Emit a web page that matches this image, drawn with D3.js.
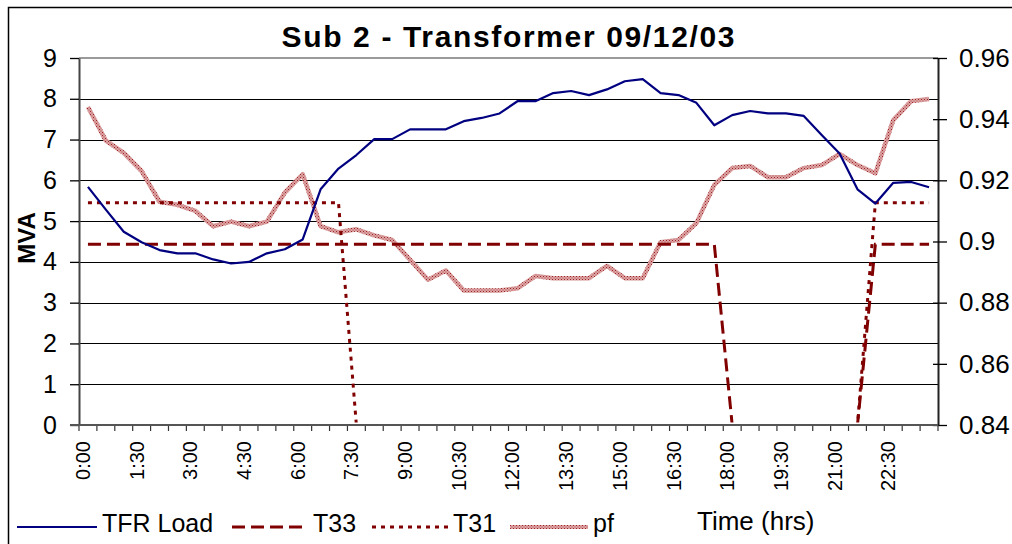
<!DOCTYPE html>
<html>
<head>
<meta charset="utf-8">
<script src="https://cdn.jsdelivr.net/npm/d3@7"></script>
<style>
    body { margin: 0; background: #fff; }
    svg { display: block; font-family: "Liberation Sans", Arial, sans-serif; }
</style>
</head>
<body>
<div id="chart"></div>
<script>
// half-hour readings, 09/12/03
const times = ['0:00', '0:30', '1:00', '1:30', '2:00', '2:30', '3:00', '3:30', '4:00', '4:30', '5:00', '5:30',
    '6:00', '6:30', '7:00', '7:30', '8:00', '8:30', '9:00', '9:30', '10:00', '10:30', '11:00', '11:30',
    '12:00', '12:30', '13:00', '13:30', '14:00', '14:30', '15:00', '15:30', '16:00', '16:30', '17:00', '17:30',
    '18:00', '18:30', '19:00', '19:30', '20:00', '20:30', '21:00', '21:30', '22:00', '22:30', '23:00', '23:30'];

const tfrLoad = [5.84, 5.28, 4.74, 4.48, 4.29, 4.21, 4.21, 4.06, 3.96, 4.00, 4.21, 4.31,
    4.55, 5.78, 6.29, 6.62, 7.01, 7.01, 7.25, 7.25, 7.25, 7.45, 7.53, 7.64,
    7.94, 7.94, 8.14, 8.19, 8.09, 8.23, 8.43, 8.48, 8.14, 8.09, 7.90, 7.35,
    7.60, 7.70, 7.64, 7.64, 7.58, 7.11, 6.66, 5.78, 5.43, 5.94, 5.96, 5.83];

const t33 = [4.43, 4.43, 4.43, 4.43, 4.43, 4.43, 4.43, 4.43, 4.43, 4.43, 4.43, 4.43,
    4.43, 4.43, 4.43, 4.43, 4.43, 4.43, 4.43, 4.43, 4.43, 4.43, 4.43, 4.43,
    4.43, 4.43, 4.43, 4.43, 4.43, 4.43, 4.43, 4.43, 4.43, 4.43, 4.43, 4.43,
    0, 0, 0, 0, 0, 0, 0, 0, 4.43, 4.43, 4.43, 4.43];

const t31 = [5.45, 5.45, 5.45, 5.45, 5.45, 5.45, 5.45, 5.45, 5.45, 5.45, 5.45, 5.45,
    5.45, 5.45, 5.45, 0, 0, 0, 0, 0, 0, 0, 0, 0,
    0, 0, 0, 0, 0, 0, 0, 0, 0, 0, 0, 0,
    0, 0, 0, 0, 0, 0, 0, 0, 5.45, 5.45, 5.45, 5.45];

const pf = [0.944, 0.933, 0.929, 0.923, 0.913, 0.912, 0.910, 0.905, 0.9065, 0.905, 0.9065, 0.916,
    0.922, 0.905, 0.903, 0.904, 0.902, 0.9005, 0.894, 0.8875, 0.8905, 0.884, 0.884, 0.884,
    0.8847, 0.8887, 0.888, 0.888, 0.888, 0.892, 0.888, 0.888, 0.8998, 0.9005, 0.906, 0.9185,
    0.924, 0.9247, 0.921, 0.921, 0.924, 0.925, 0.9286, 0.925, 0.9223, 0.9397, 0.9459, 0.9466];

const mvaTicks = [0, 1, 2, 3, 4, 5, 6, 7, 8, 9];
const pfTicks = [0.84, 0.86, 0.88, 0.90, 0.92, 0.94, 0.96];
const pfTickLabels = ['0.84', '0.86', '0.88', '0.9', '0.92', '0.94', '0.96'];
const labelEvery = 3;

// Variable declaration
const W = 1012, H = 544;
const plot = {left: 79, right: 938, top: 58, bottom: 425};

const svg = d3.select('#chart').append('svg')
    .attr('width', W)
    .attr('height', H);

// outer chart border
svg.append('rect')
    .attr('x', 8.5).attr('y', 7.5)
    .attr('width', W).attr('height', H)
    .attr('fill', 'none').attr('stroke', '#000').attr('stroke-width', 1.5);

const x = d3.scaleBand().domain(times).range([plot.left, plot.right]).padding(0);
const y = d3.scaleLinear().domain([0, 9]).range([plot.bottom, plot.top]);
const y2 = d3.scaleLinear().domain([0.84, 0.96]).range([plot.bottom, plot.top]);
const cx = d => x(d) + x.bandwidth() / 2;

// pattern used by the pf line
const defs = svg.append('defs');
const pat = defs.append('pattern')
    .attr('id', 'pfPat')
    .attr('patternUnits', 'userSpaceOnUse')
    .attr('width', 3).attr('height', 3);
pat.append('rect').attr('width', 3).attr('height', 3).attr('fill', '#dca4a4');
pat.append('rect').attr('width', 1).attr('height', 1).attr('fill', '#9c2424');
pat.append('rect').attr('x', 1.5).attr('y', 1.5).attr('width', 1).attr('height', 1).attr('fill', '#b04848');

// zero values sit under the category axis, so clip just above it
defs.append('clipPath').attr('id', 'plotClip')
    .append('rect')
    .attr('x', plot.left).attr('y', plot.top - 5)
    .attr('width', plot.right - plot.left).attr('height', plot.bottom - plot.top + 2.5);

// gridlines
svg.append('g').attr('class', 'grid')
    .selectAll('line')
    .data(mvaTicks.filter(d => d > 0 && d < 9))
    .enter().append('line')
    .attr('x1', plot.left).attr('x2', plot.right)
    .attr('y1', d => Math.round(y(d)) + 0.5).attr('y2', d => Math.round(y(d)) + 0.5)
    .attr('stroke', '#000').attr('stroke-width', 1);

// plot top border (grey)
svg.append('line')
    .attr('x1', plot.left).attr('x2', plot.right)
    .attr('y1', plot.top).attr('y2', plot.top)
    .attr('stroke', '#9a9a9a').attr('stroke-width', 2);

// series
const chartG = svg.append('g').attr('clip-path', 'url(#plotClip)');

const lineL = d3.line().x((d, i) => cx(times[i])).y(d => y(d));
const lineR = d3.line().x((d, i) => cx(times[i])).y(d => y2(d));

chartG.append('path').datum(pf)
    .attr('d', lineR)
    .attr('fill', 'none')
    .attr('stroke', 'url(#pfPat)')
    .attr('stroke-width', 4.5)
    .attr('stroke-linejoin', 'round');

chartG.append('path').datum(t33)
    .attr('d', lineL)
    .attr('fill', 'none')
    .attr('stroke', '#800000')
    .attr('stroke-width', 3)
    .attr('stroke-dasharray', '13,6');

chartG.append('path').datum(t31)
    .attr('d', lineL)
    .attr('fill', 'none')
    .attr('stroke', '#800000')
    .attr('stroke-width', 3)
    .attr('stroke-dasharray', '4,5');

chartG.append('path').datum(tfrLoad)
    .attr('d', lineL)
    .attr('fill', 'none')
    .attr('stroke', '#000080')
    .attr('stroke-width', 2.2)
    .attr('stroke-linejoin', 'round');

// left axis
const yAxis = d3.axisLeft(y).tickValues(mvaTicks).tickSize(9).tickSizeOuter(0).tickPadding(13).tickFormat(d => d);
const gL = svg.append('g')
    .attr('transform', 'translate(' + plot.left + ',0)')
    .call(yAxis);
gL.select('.domain').attr('stroke', '#444').attr('stroke-width', 2);
gL.selectAll('.tick line').attr('stroke', '#000').attr('stroke-width', 1.3);
gL.selectAll('.tick text')
    .attr('font-size', 25).attr('fill', '#000')
    .style('font-family', '"Liberation Sans", Arial, sans-serif');

// right axis (pf)
const yAxis2 = d3.axisRight(y2).tickValues(pfTicks).tickSize(9).tickSizeOuter(0).tickPadding(12)
    .tickFormat((d, i) => pfTickLabels[i]);
const gR = svg.append('g')
    .attr('transform', 'translate(' + plot.right + ',0)')
    .call(yAxis2);
gR.select('.domain').attr('stroke', '#222').attr('stroke-width', 2);
gR.selectAll('.tick line').attr('x1', -5).attr('stroke', '#000').attr('stroke-width', 1.3);
gR.selectAll('.tick text')
    .attr('font-size', 26).attr('fill', '#000')
    .style('font-family', '"Liberation Sans", Arial, sans-serif');

// bottom axis - ticks on the category boundaries
const gB = svg.append('g').attr('class', 'x axis');
gB.selectAll('line.tk')
    .data(times.map(d => x(d)).concat([plot.right]))
    .enter().append('line')
    .attr('class', 'tk')
    .attr('x1', d => d).attr('x2', d => d)
    .attr('y1', plot.bottom).attr('y2', plot.bottom + 6)
    .attr('stroke', '#333').attr('stroke-width', 1.2);
gB.append('line')
    .attr('x1', plot.left - 9).attr('x2', plot.right)
    .attr('y1', plot.bottom).attr('y2', plot.bottom)
    .attr('stroke', '#555').attr('stroke-width', 2);

gB.selectAll('text')
    .data(times.filter((d, i) => i % labelEvery === 0))
    .enter().append('text')
    .attr('transform', d => 'translate(' + (cx(d) + 2) + ',' + (plot.bottom + 16) + ') rotate(-90)')
    .attr('text-anchor', 'end')
    .attr('font-size', 20)
    .attr('fill', '#000')
    .text(d => d);

// titles
svg.append('text')
    .attr('x', 508).attr('y', 47)
    .attr('text-anchor', 'middle')
    .attr('font-size', 30).attr('font-weight', 'bold')
    .attr('textLength', 453).attr('lengthAdjust', 'spacing')
    .text('Sub 2 - Transformer 09/12/03');

svg.append('text')
    .attr('transform', 'translate(35,238) rotate(-90)')
    .attr('text-anchor', 'middle')
    .attr('font-size', 24).attr('font-weight', 'bold')
    .text('MVA');

svg.append('text')
    .attr('x', 697).attr('y', 530)
    .attr('font-size', 26)
    .text('Time (hrs)');

// legend
const legendItems = [
    {name: 'TFR Load', x1: 17, x2: 97, stroke: '#000080', width: 2, dash: null},
    {name: 'T33', x1: 232, x2: 308, stroke: '#800000', width: 3, dash: '13,6'},
    {name: 'T31', x1: 372, x2: 448, stroke: '#800000', width: 3, dash: '4,5'},
    {name: 'pf', x1: 510, x2: 588, stroke: 'url(#pfPat)', width: 4, dash: null}
];
const legendY = 527;
const lg = svg.append('g').attr('class', 'legend');
const li = lg.selectAll('g').data(legendItems).enter().append('g');
li.append('line')
    .attr('x1', d => d.x1).attr('x2', d => d.x2)
    .attr('y1', legendY).attr('y2', legendY)
    .attr('stroke', d => d.stroke)
    .attr('stroke-width', d => d.width)
    .attr('stroke-dasharray', d => d.dash);
li.append('text')
    .attr('x', d => d.x2 + 5)
    .attr('y', legendY + 5)
    .attr('font-size', 25)
    .text(d => d.name);
</script>
</body>
</html>
